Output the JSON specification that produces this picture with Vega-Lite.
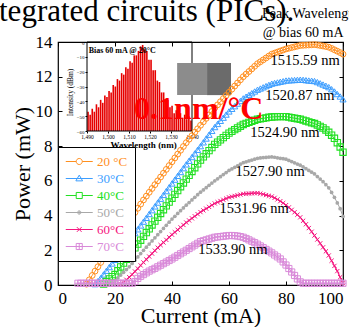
{
"$schema":"https://vega.github.io/schema/vega-lite/v6.json",
"width":285,"height":243,"autosize":"none",
"padding":{"left":58,"top":42,"right":6,"bottom":42},
"background":"white",
"config":{"view":{"stroke":"black","strokeWidth":1.2},"font":"Liberation Serif","text":{"font":"Liberation Serif"},"axis":{"grid":false,"labelFont":"Liberation Serif","titleFont":"Liberation Serif","labelColor":"black","titleColor":"black","tickColor":"black","domainColor":"black"},"legend":{"labelFont":"Liberation Serif"}},
"datasets":{
"c20":[{"I":10,"P":0.05},{"I":11,"P":0.3},{"I":12,"P":0.55},{"I":13,"P":0.8},{"I":14,"P":1.05},{"I":15,"P":1.3},{"I":16,"P":1.54},{"I":17,"P":1.78},{"I":18,"P":2.02},{"I":19,"P":2.26},{"I":20,"P":2.5},{"I":21,"P":2.74},{"I":22,"P":2.98},{"I":23,"P":3.22},{"I":24,"P":3.46},{"I":25,"P":3.7},{"I":26,"P":3.94},{"I":27,"P":4.18},{"I":28,"P":4.42},{"I":29,"P":4.66},{"I":30,"P":4.9},{"I":31,"P":5.12},{"I":32,"P":5.34},{"I":33,"P":5.56},{"I":34,"P":5.78},{"I":35,"P":6.0},{"I":36,"P":6.22},{"I":37,"P":6.44},{"I":38,"P":6.66},{"I":39,"P":6.88},{"I":40,"P":7.1},{"I":41,"P":7.32},{"I":42,"P":7.54},{"I":43,"P":7.76},{"I":44,"P":7.98},{"I":45,"P":8.2},{"I":46,"P":8.4},{"I":47,"P":8.6},{"I":48,"P":8.8},{"I":49,"P":9.0},{"I":50,"P":9.2},{"I":51,"P":9.4},{"I":52,"P":9.6},{"I":53,"P":9.8},{"I":54,"P":10.0},{"I":55,"P":10.2},{"I":56,"P":10.38},{"I":57,"P":10.56},{"I":58,"P":10.74},{"I":59,"P":10.92},{"I":60,"P":11.1},{"I":61,"P":11.28},{"I":62,"P":11.46},{"I":63,"P":11.64},{"I":64,"P":11.82},{"I":65,"P":12.0},{"I":66,"P":12.15},{"I":67,"P":12.3},{"I":68,"P":12.45},{"I":69,"P":12.6},{"I":70,"P":12.75},{"I":71,"P":12.86},{"I":72,"P":12.97},{"I":73,"P":13.08},{"I":74,"P":13.19},{"I":75,"P":13.3},{"I":76,"P":13.36},{"I":77,"P":13.42},{"I":78,"P":13.48},{"I":79,"P":13.54},{"I":80,"P":13.6},{"I":81,"P":13.64},{"I":82,"P":13.68},{"I":83,"P":13.72},{"I":84,"P":13.76},{"I":85,"P":13.8},{"I":86,"P":13.81},{"I":87,"P":13.82},{"I":88,"P":13.83},{"I":89,"P":13.84},{"I":90,"P":13.85},{"I":91,"P":13.83},{"I":92,"P":13.8},{"I":93,"P":13.77},{"I":94,"P":13.74},{"I":95,"P":13.7},{"I":96,"P":13.63},{"I":97,"P":13.55},{"I":98,"P":13.47},{"I":99,"P":13.39},{"I":100,"P":13.3}],
"c30":[{"I":13,"P":0.05},{"I":14,"P":0.22},{"I":15,"P":0.4},{"I":16,"P":0.61},{"I":17,"P":0.82},{"I":18,"P":1.03},{"I":19,"P":1.24},{"I":20,"P":1.45},{"I":21,"P":1.67},{"I":22,"P":1.89},{"I":23,"P":2.11},{"I":24,"P":2.33},{"I":25,"P":2.55},{"I":26,"P":2.77},{"I":27,"P":2.99},{"I":28,"P":3.21},{"I":29,"P":3.43},{"I":30,"P":3.65},{"I":31,"P":3.87},{"I":32,"P":4.09},{"I":33,"P":4.31},{"I":34,"P":4.53},{"I":35,"P":4.75},{"I":36,"P":4.97},{"I":37,"P":5.19},{"I":38,"P":5.41},{"I":39,"P":5.63},{"I":40,"P":5.85},{"I":41,"P":6.07},{"I":42,"P":6.29},{"I":43,"P":6.51},{"I":44,"P":6.73},{"I":45,"P":6.95},{"I":46,"P":7.16},{"I":47,"P":7.37},{"I":48,"P":7.58},{"I":49,"P":7.79},{"I":50,"P":8.0},{"I":51,"P":8.22},{"I":52,"P":8.44},{"I":53,"P":8.66},{"I":54,"P":8.88},{"I":55,"P":9.1},{"I":56,"P":9.28},{"I":57,"P":9.46},{"I":58,"P":9.64},{"I":59,"P":9.82},{"I":60,"P":10.0},{"I":61,"P":10.15},{"I":62,"P":10.3},{"I":63,"P":10.45},{"I":64,"P":10.6},{"I":65,"P":10.75},{"I":66,"P":10.85},{"I":67,"P":10.95},{"I":68,"P":11.05},{"I":69,"P":11.15},{"I":70,"P":11.25},{"I":71,"P":11.32},{"I":72,"P":11.39},{"I":73,"P":11.46},{"I":74,"P":11.53},{"I":75,"P":11.6},{"I":76,"P":11.64},{"I":77,"P":11.67},{"I":78,"P":11.71},{"I":79,"P":11.74},{"I":80,"P":11.78},{"I":81,"P":11.79},{"I":82,"P":11.8},{"I":83,"P":11.81},{"I":84,"P":11.82},{"I":85,"P":11.83},{"I":86,"P":11.82},{"I":87,"P":11.8},{"I":88,"P":11.78},{"I":89,"P":11.77},{"I":90,"P":11.75},{"I":91,"P":11.69},{"I":92,"P":11.62},{"I":93,"P":11.55},{"I":94,"P":11.48},{"I":95,"P":11.4},{"I":96,"P":11.28},{"I":97,"P":11.15},{"I":98,"P":11.0},{"I":99,"P":10.86},{"I":100,"P":10.7}],
"c40":[{"I":16,"P":0.05},{"I":17,"P":0.2},{"I":18,"P":0.35},{"I":19,"P":0.48},{"I":20,"P":0.6},{"I":21,"P":0.82},{"I":22,"P":1.04},{"I":23,"P":1.26},{"I":24,"P":1.48},{"I":25,"P":1.7},{"I":26,"P":1.92},{"I":27,"P":2.14},{"I":28,"P":2.36},{"I":29,"P":2.58},{"I":30,"P":2.8},{"I":31,"P":3.02},{"I":32,"P":3.24},{"I":33,"P":3.46},{"I":34,"P":3.68},{"I":35,"P":3.9},{"I":36,"P":4.12},{"I":37,"P":4.34},{"I":38,"P":4.56},{"I":39,"P":4.78},{"I":40,"P":5.0},{"I":41,"P":5.22},{"I":42,"P":5.44},{"I":43,"P":5.66},{"I":44,"P":5.88},{"I":45,"P":6.1},{"I":46,"P":6.32},{"I":47,"P":6.54},{"I":48,"P":6.76},{"I":49,"P":6.98},{"I":50,"P":7.2},{"I":51,"P":7.38},{"I":52,"P":7.56},{"I":53,"P":7.74},{"I":54,"P":7.92},{"I":55,"P":8.1},{"I":56,"P":8.23},{"I":57,"P":8.36},{"I":58,"P":8.49},{"I":59,"P":8.62},{"I":60,"P":8.75},{"I":61,"P":8.85},{"I":62,"P":8.95},{"I":63,"P":9.05},{"I":64,"P":9.15},{"I":65,"P":9.25},{"I":66,"P":9.31},{"I":67,"P":9.37},{"I":68,"P":9.43},{"I":69,"P":9.49},{"I":70,"P":9.55},{"I":71,"P":9.58},{"I":72,"P":9.6},{"I":73,"P":9.63},{"I":74,"P":9.66},{"I":75,"P":9.68},{"I":76,"P":9.69},{"I":77,"P":9.7},{"I":78,"P":9.7},{"I":79,"P":9.7},{"I":80,"P":9.7},{"I":81,"P":9.67},{"I":82,"P":9.64},{"I":83,"P":9.61},{"I":84,"P":9.58},{"I":85,"P":9.55},{"I":86,"P":9.5},{"I":87,"P":9.45},{"I":88,"P":9.4},{"I":89,"P":9.35},{"I":90,"P":9.3},{"I":91,"P":9.22},{"I":92,"P":9.14},{"I":93,"P":9.05},{"I":94,"P":8.93},{"I":95,"P":8.8},{"I":96,"P":8.63},{"I":97,"P":8.45},{"I":98,"P":8.2},{"I":99,"P":7.95},{"I":100,"P":7.65}],
"c50":[{"I":19,"P":0.05},{"I":20,"P":0.25},{"I":21,"P":0.41},{"I":22,"P":0.57},{"I":23,"P":0.73},{"I":24,"P":0.89},{"I":25,"P":1.05},{"I":26,"P":1.24},{"I":27,"P":1.43},{"I":28,"P":1.62},{"I":29,"P":1.81},{"I":30,"P":2.0},{"I":31,"P":2.18},{"I":32,"P":2.36},{"I":33,"P":2.54},{"I":34,"P":2.72},{"I":35,"P":2.9},{"I":36,"P":3.08},{"I":37,"P":3.26},{"I":38,"P":3.44},{"I":39,"P":3.62},{"I":40,"P":3.8},{"I":41,"P":3.96},{"I":42,"P":4.12},{"I":43,"P":4.28},{"I":44,"P":4.44},{"I":45,"P":4.6},{"I":46,"P":4.75},{"I":47,"P":4.9},{"I":48,"P":5.05},{"I":49,"P":5.2},{"I":50,"P":5.35},{"I":51,"P":5.48},{"I":52,"P":5.61},{"I":53,"P":5.74},{"I":54,"P":5.87},{"I":55,"P":6.0},{"I":56,"P":6.12},{"I":57,"P":6.24},{"I":58,"P":6.36},{"I":59,"P":6.48},{"I":60,"P":6.6},{"I":61,"P":6.69},{"I":62,"P":6.78},{"I":63,"P":6.87},{"I":64,"P":6.96},{"I":65,"P":7.05},{"I":66,"P":7.1},{"I":67,"P":7.15},{"I":68,"P":7.2},{"I":69,"P":7.25},{"I":70,"P":7.3},{"I":71,"P":7.32},{"I":72,"P":7.34},{"I":73,"P":7.35},{"I":74,"P":7.37},{"I":75,"P":7.38},{"I":76,"P":7.36},{"I":77,"P":7.33},{"I":78,"P":7.3},{"I":79,"P":7.28},{"I":80,"P":7.25},{"I":81,"P":7.18},{"I":82,"P":7.11},{"I":83,"P":7.04},{"I":84,"P":6.97},{"I":85,"P":6.9},{"I":86,"P":6.8},{"I":87,"P":6.7},{"I":88,"P":6.6},{"I":89,"P":6.5},{"I":90,"P":6.4},{"I":91,"P":6.25},{"I":92,"P":6.1},{"I":93,"P":5.95},{"I":94,"P":5.78},{"I":95,"P":5.6},{"I":96,"P":5.33},{"I":97,"P":5.05},{"I":98,"P":4.73},{"I":99,"P":4.4},{"I":100,"P":3.95}],
"c60":[{"I":22,"P":0.05},{"I":23,"P":0.17},{"I":24,"P":0.3},{"I":25,"P":0.45},{"I":26,"P":0.6},{"I":27,"P":0.78},{"I":28,"P":0.95},{"I":29,"P":1.13},{"I":30,"P":1.3},{"I":31,"P":1.47},{"I":32,"P":1.64},{"I":33,"P":1.81},{"I":34,"P":1.98},{"I":35,"P":2.15},{"I":36,"P":2.3},{"I":37,"P":2.45},{"I":38,"P":2.6},{"I":39,"P":2.75},{"I":40,"P":2.9},{"I":41,"P":3.04},{"I":42,"P":3.18},{"I":43,"P":3.32},{"I":44,"P":3.46},{"I":45,"P":3.6},{"I":46,"P":3.72},{"I":47,"P":3.84},{"I":48,"P":3.96},{"I":49,"P":4.08},{"I":50,"P":4.2},{"I":51,"P":4.3},{"I":52,"P":4.4},{"I":53,"P":4.5},{"I":54,"P":4.6},{"I":55,"P":4.7},{"I":56,"P":4.77},{"I":57,"P":4.84},{"I":58,"P":4.91},{"I":59,"P":4.98},{"I":60,"P":5.05},{"I":61,"P":5.09},{"I":62,"P":5.13},{"I":63,"P":5.17},{"I":64,"P":5.21},{"I":65,"P":5.25},{"I":66,"P":5.26},{"I":67,"P":5.27},{"I":68,"P":5.28},{"I":69,"P":5.29},{"I":70,"P":5.3},{"I":71,"P":5.27},{"I":72,"P":5.23},{"I":73,"P":5.18},{"I":74,"P":5.14},{"I":75,"P":5.1},{"I":76,"P":5.02},{"I":77,"P":4.93},{"I":78,"P":4.83},{"I":79,"P":4.72},{"I":80,"P":4.6},{"I":81,"P":4.47},{"I":82,"P":4.33},{"I":83,"P":4.19},{"I":84,"P":4.05},{"I":85,"P":3.9},{"I":86,"P":3.7},{"I":87,"P":3.5},{"I":88,"P":3.28},{"I":89,"P":3.07},{"I":90,"P":2.85},{"I":91,"P":2.62},{"I":92,"P":2.4},{"I":93,"P":2.17},{"I":94,"P":1.94},{"I":95,"P":1.7},{"I":96,"P":1.4},{"I":97,"P":1.1},{"I":98,"P":0.8},{"I":99,"P":0.45},{"I":100,"P":0.1}],
"c70":[{"I":7,"P":0.1},{"I":8,"P":0.1},{"I":9,"P":0.1},{"I":10,"P":0.1},{"I":11,"P":0.1},{"I":12,"P":0.1},{"I":13,"P":0.1},{"I":14,"P":0.1},{"I":15,"P":0.1},{"I":16,"P":0.1},{"I":17,"P":0.1},{"I":18,"P":0.1},{"I":19,"P":0.1},{"I":20,"P":0.1},{"I":21,"P":0.1},{"I":22,"P":0.1},{"I":23,"P":0.1},{"I":24,"P":0.1},{"I":25,"P":0.1},{"I":26,"P":0.1},{"I":27,"P":0.2},{"I":28,"P":0.38},{"I":29,"P":0.5},{"I":30,"P":0.6},{"I":31,"P":0.7},{"I":32,"P":0.8},{"I":33,"P":0.88},{"I":34,"P":0.96},{"I":35,"P":1.05},{"I":36,"P":1.14},{"I":37,"P":1.23},{"I":38,"P":1.32},{"I":39,"P":1.41},{"I":40,"P":1.5},{"I":41,"P":1.6},{"I":42,"P":1.7},{"I":43,"P":1.8},{"I":44,"P":1.9},{"I":45,"P":2.0},{"I":46,"P":2.1},{"I":47,"P":2.2},{"I":48,"P":2.3},{"I":49,"P":2.4},{"I":50,"P":2.5},{"I":51,"P":2.55},{"I":52,"P":2.6},{"I":53,"P":2.65},{"I":54,"P":2.7},{"I":55,"P":2.75},{"I":56,"P":2.77},{"I":57,"P":2.79},{"I":58,"P":2.81},{"I":59,"P":2.83},{"I":60,"P":2.85},{"I":61,"P":2.85},{"I":62,"P":2.84},{"I":63,"P":2.82},{"I":64,"P":2.79},{"I":65,"P":2.75},{"I":66,"P":2.68},{"I":67,"P":2.6},{"I":68,"P":2.52},{"I":69,"P":2.44},{"I":70,"P":2.35},{"I":71,"P":2.25},{"I":72,"P":2.15},{"I":73,"P":2.05},{"I":74,"P":1.95},{"I":75,"P":1.85},{"I":76,"P":1.73},{"I":77,"P":1.62},{"I":78,"P":1.5},{"I":79,"P":1.33},{"I":80,"P":1.15},{"I":81,"P":0.95},{"I":82,"P":0.75},{"I":83,"P":0.55},{"I":84,"P":0.35},{"I":85,"P":0.18},{"I":86,"P":0.1},{"I":87,"P":0.1},{"I":88,"P":0.1},{"I":89,"P":0.1},{"I":90,"P":0.1},{"I":91,"P":0.1},{"I":92,"P":0.1},{"I":93,"P":0.1},{"I":94,"P":0.1},{"I":95,"P":0.1},{"I":96,"P":0.1},{"I":97,"P":0.1},{"I":98,"P":0.1},{"I":99,"P":0.1},{"I":100,"P":0.1}],
"peaks":[{"label":"1515.59 nm","I":86.7,"P":12.9},{"label":"1520.87 nm","I":84.9,"P":10.89},{"label":"1524.90 nm","I":79.6,"P":8.76},{"label":"1527.90 nm","I":74.4,"P":6.51},{"label":"1531.96 nm","I":68.8,"P":4.38},{"label":"1533.90 nm","I":61.4,"P":2.02}],
"legend":[{"temp":"20 °C"},{"temp":"30°C"},{"temp":"40°C"},{"temp":"50°C"},{"temp":"60°C"},{"temp":"70°C"}],
"spectrum":[{"wl":1490.5,"dBm":-47},{"wl":1491.5,"dBm":-49},{"wl":1492.5,"dBm":-45},{"wl":1493.5,"dBm":-47},{"wl":1494.5,"dBm":-42},{"wl":1495.5,"dBm":-44},{"wl":1496.5,"dBm":-39},{"wl":1497.5,"dBm":-41},{"wl":1498.5,"dBm":-36},{"wl":1499.5,"dBm":-37},{"wl":1500.5,"dBm":-33},{"wl":1501.5,"dBm":-34},{"wl":1502.5,"dBm":-29},{"wl":1503.5,"dBm":-30},{"wl":1504.5,"dBm":-25},{"wl":1505.5,"dBm":-26},{"wl":1506.5,"dBm":-21},{"wl":1507.5,"dBm":-22},{"wl":1508.5,"dBm":-17},{"wl":1509.5,"dBm":-18},{"wl":1510.5,"dBm":-13},{"wl":1511.5,"dBm":-14},{"wl":1512.5,"dBm":-9},{"wl":1513.5,"dBm":-9},{"wl":1514.5,"dBm":-6},{"wl":1515.5,"dBm":-3},{"wl":1516.5,"dBm":-2},{"wl":1517.5,"dBm":-5},{"wl":1518.5,"dBm":-6},{"wl":1519.5,"dBm":-12},{"wl":1520.5,"dBm":-12},{"wl":1521.5,"dBm":-19},{"wl":1522.5,"dBm":-19},{"wl":1523.5,"dBm":-26},{"wl":1524.5,"dBm":-27},{"wl":1525.5,"dBm":-34},{"wl":1526.5,"dBm":-34},{"wl":1527.5,"dBm":-40},{"wl":1528.5,"dBm":-39},{"wl":1529.5,"dBm":-44},{"wl":1530.5,"dBm":-43},{"wl":1531.5,"dBm":-48},{"wl":1532.5,"dBm":-46},{"wl":1533.5,"dBm":-50},{"wl":1534.5,"dBm":-48},{"wl":1535.5,"dBm":-51},{"wl":1536.5,"dBm":-49},{"wl":1537.5,"dBm":-52},{"wl":1538.5,"dBm":-50},{"wl":1539.5,"dBm":-53}]
},
"layer":[
{
"layer":[
{"data":{"name":"spectrum"},"mark":{"type":"rule","color":"#e60000","strokeWidth":1.6},
 "encoding":{
  "x":{"field":"wl","type":"quantitative","scale":{"domain":[1476.19,1611.9],"nice":false,"zero":false},
   "axis":{"orient":"bottom","offset":-154,"values":[1490,1500,1510,1520,1530,1540],"domain":false,"tickSize":2,"labelFontSize":5.5,"labelPadding":1,"title":"Wavelength (nm)","titleFontSize":9,"titleFontWeight":"bold","titleX":85,"titlePadding":1}},
  "y":{"field":"dBm","type":"quantitative","scale":{"domain":[-163.82,0],"nice":false,"zero":false},
   "axis":{"orient":"left","offset":-29,"values":[-60,-50,-40,-30,-20,-10,0],"domain":false,"tickSize":2,"labelFontSize":5,"labelPadding":1,"title":"Intensity (dBm)","titleFontSize":7.5,"titleFontWeight":"normal","titleY":50,"titlePadding":2}},
  "y2":{"datum":-60}}},
{"data":{"values":[{}]},"mark":{"type":"rect","filled":false,"stroke":"black","strokeWidth":1},
 "encoding":{"x":{"datum":1490,"type":"quantitative"},"x2":{"datum":1540},"y":{"datum":-60,"type":"quantitative"},"y2":{"datum":0}}},
{"data":{"values":[{}]},"mark":{"type":"text","text":"Bias 60 mA @ 20°C","font":"Liberation Serif","fontSize":8,"fontWeight":"bold","align":"left","baseline":"middle","color":"black"},
 "encoding":{"x":{"datum":1490.8,"type":"quantitative"},"y":{"datum":-6,"type":"quantitative"}}}
]
},
{
"layer":[
{"data":{"values":[{}]},"mark":{"type":"point","opacity":0},
 "encoding":{
  "x":{"datum":0,"type":"quantitative","scale":{"domain":[0,100],"nice":false,"zero":false},"axis":{"orient":"bottom","values":[0,20,40,60,80,100],"domain":false,"tickSize":-4,"labelPadding":9,"labelFontSize":17,"title":"Current (mA)","titleFontSize":22,"titleFontWeight":"normal","titlePadding":-1}},
  "y":{"datum":0,"type":"quantitative","scale":{"domain":[0,14],"nice":false,"zero":false},"axis":{"orient":"left","values":[0,2,4,6,8,10,12,14],"domain":false,"tickSize":-4,"labelPadding":10,"labelFontSize":17,"title":"Power (mW)","titleFontSize":22,"titleFontWeight":"normal","titlePadding":1}}}},
{"data":{"values":[{}]},"mark":{"type":"point","opacity":0},
 "encoding":{
  "x":{"datum":0,"type":"quantitative","scale":{"domain":[0,100],"nice":false,"zero":false},"axis":{"orient":"top","values":[0,20,40,60,80,100],"domain":false,"tickSize":-4,"labels":false,"title":null}},
  "y":{"datum":0,"type":"quantitative","scale":{"domain":[0,14],"nice":false,"zero":false},"axis":{"orient":"right","values":[0,2,4,6,8,10,12,14],"domain":false,"tickSize":-4,"labels":false,"title":null}}}},
{"data":{"values":[{}]},"mark":{"type":"text","text":"tegrated circuits (PICs).","font":"Liberation Serif","fontSize":31,"align":"left","baseline":"alphabetic","color":"black"},
 "encoding":{"x":{"datum":-20.7,"type":"quantitative","axis":null},"y":{"datum":15.21,"type":"quantitative","axis":null}}},
{"data":{"values":[{}]},"mark":{"type":"rect","color":"#8c8c8c"},
 "encoding":{"x":{"datum":41.8,"type":"quantitative","axis":null},"x2":{"datum":52.3},"y":{"datum":10.94,"type":"quantitative","axis":null},"y2":{"datum":12.79}}},
{"data":{"values":[{}]},"mark":{"type":"rect","color":"#6b6b6b"},
 "encoding":{"x":{"datum":52.3,"type":"quantitative","axis":null},"x2":{"datum":60.7},"y":{"datum":10.94,"type":"quantitative","axis":null},"y2":{"datum":12.79}}},
{"data":{"name":"c20"},"mark":{"type":"line","color":"#ff8f1f","strokeWidth":1,"point":{"shape":"circle","filled":false,"size":34,"strokeWidth":1,"color":"#ff8f1f"}},
 "encoding":{"x":{"field":"I","type":"quantitative","axis":null},"y":{"field":"P","type":"quantitative","axis":null}}},
{"data":{"name":"c30"},"mark":{"type":"line","color":"#3d9eff","strokeWidth":1,"point":{"shape":"triangle-up","filled":false,"size":38,"strokeWidth":1,"color":"#3d9eff"}},
 "encoding":{"x":{"field":"I","type":"quantitative","axis":null},"y":{"field":"P","type":"quantitative","axis":null}}},
{"data":{"name":"c40"},"mark":{"type":"line","color":"#22e022","strokeWidth":1,"point":{"shape":"square","filled":false,"size":40,"strokeWidth":1.1,"color":"#22e022"}},
 "encoding":{"x":{"field":"I","type":"quantitative","axis":null},"y":{"field":"P","type":"quantitative","axis":null}}},
{"data":{"name":"c50"},"mark":{"type":"line","color":"#a8a8a8","strokeWidth":1,"point":{"shape":"circle","filled":true,"size":14,"color":"#a8a8a8"}},
 "encoding":{"x":{"field":"I","type":"quantitative","axis":null},"y":{"field":"P","type":"quantitative","axis":null}}},
{"data":{"name":"c60"},"mark":{"type":"line","color":"#f5167f","strokeWidth":1.2,"point":{"shape":"M-1,-1L1,1M-1,1L1,-1","filled":false,"size":18,"strokeWidth":1,"color":"#f5167f"}},
 "encoding":{"x":{"field":"I","type":"quantitative","axis":null},"y":{"field":"P","type":"quantitative","axis":null}}},
{"data":{"name":"c70"},"mark":{"type":"line","color":"#d98ad9","strokeWidth":1,"point":{"shape":"M-1,-1H1V1H-1ZM0,-1V1M-1,0H1","filled":false,"size":38,"strokeWidth":1,"color":"#d98ad9"}},
 "encoding":{"x":{"field":"I","type":"quantitative","axis":null},"y":{"field":"P","type":"quantitative","axis":null}}},
{"data":{"name":"peaks"},"mark":{"type":"text","font":"Liberation Serif","fontSize":14.5,"align":"center","baseline":"middle","color":"black"},
 "encoding":{"x":{"field":"I","type":"quantitative","axis":null},"y":{"field":"P","type":"quantitative","axis":null},"text":{"field":"label"}}},
{"data":{"values":[{}]},"mark":{"type":"text","text":"0.1nm/°C","font":"Liberation Serif","fontSize":32,"fontWeight":"bold","align":"left","baseline":"alphabetic","color":"#ff0000"},
 "encoding":{"x":{"datum":26.7,"type":"quantitative","axis":null},"y":{"datum":9.56,"type":"quantitative","axis":null}}},
{"data":{"values":[{}]},"mark":{"type":"text","text":"Peak Wavelength","font":"Liberation Serif","fontSize":14,"align":"left","baseline":"middle","color":"black"},
 "encoding":{"x":{"datum":71.6,"type":"quantitative","axis":null},"y":{"datum":15.6,"type":"quantitative","axis":null}}},
{"data":{"values":[{}]},"mark":{"type":"text","text":"@ bias 60 mA","font":"Liberation Serif","fontSize":14,"align":"left","baseline":"middle","color":"black"},
 "encoding":{"x":{"datum":71.8,"type":"quantitative","axis":null},"y":{"datum":14.5,"type":"quantitative","axis":null}}},
{"data":{"name":"legend"},"mark":{"type":"point","opacity":0,"filled":false},
 "encoding":{
  "x":{"datum":50,"type":"quantitative","axis":null},"y":{"datum":7,"type":"quantitative","axis":null},
  "color":{"field":"temp","type":"nominal","scale":{"domain":["20 °C","30°C","40°C","50°C","60°C","70°C"],"range":["#ff8f1f","#3d9eff","#22e022","#a8a8a8","#f5167f","#d98ad9"]},
   "legend":{"orient":"none","legendX":0,"legendY":105,"title":null,"padding":7,"strokeColor":"black","fillColor":"white","symbolSize":182,"symbolStrokeWidth":1,"symbolOpacity":1,"labelFont":"Liberation Serif","labelFontSize":13,"labelOffset":17,"rowPadding":2,"labelColor":{"expr":"scale('color', datum.value)"}}},
  "shape":{"field":"temp","type":"nominal","scale":{"domain":["20 °C","30°C","40°C","50°C","60°C","70°C"],"range":["M-1,0H0.55M1.45,0H3M0.55,0A0.45,0.45,0,1,0,1.45,0A0.45,0.45,0,1,0,0.55,0Z","M-1,0H3M1,-0.5L1.5,0.35L0.5,0.35Z","M-1,0H0.55M1.45,0H3M0.55,-0.45H1.45V0.45H0.55Z","M-1,0H3M0.75,0A0.25,0.25,0,1,0,1.25,0A0.25,0.25,0,1,0,0.75,0ZM0.88,0A0.12,0.12,0,1,0,1.12,0A0.12,0.12,0,1,0,0.88,0Z","M-1,0H3M0.65,-0.35L1.35,0.35M0.65,0.35L1.35,-0.35","M-1,0H3M0.55,-0.45H1.45V0.45H0.55ZM1,-0.45V0.45"]}}}}
],
"resolve":{"axis":{"x":"independent","y":"independent"}}
}
],
"resolve":{"scale":{"x":"independent","y":"independent"}}
}
